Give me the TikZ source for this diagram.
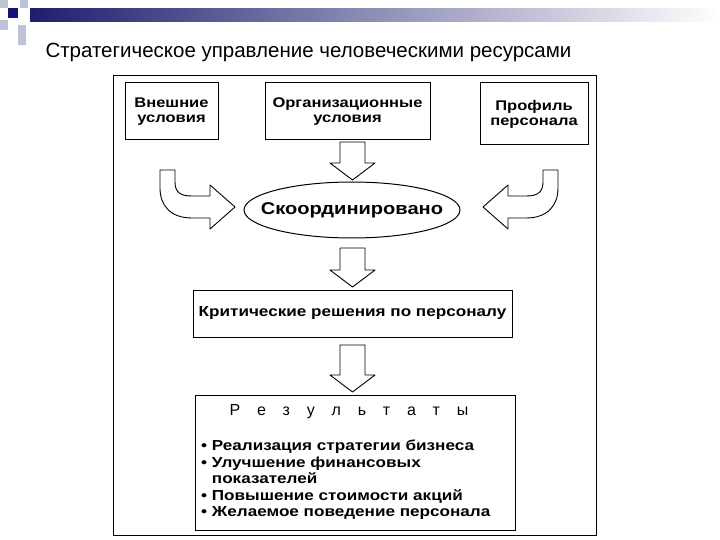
\documentclass[tikz,border=0pt]{standalone}
\usepackage{fontspec}
\setmainfont{Liberation Sans}
\newfontfamily\widebf{Liberation Sans}[FakeStretch=1.18,BoldFont={* Bold}]
\usetikzlibrary{shapes.geometric}
\definecolor{navy}{RGB}{30,30,110}
\definecolor{deepblue}{RGB}{20,20,120}
\definecolor{pale}{RGB}{190,195,215}
\begin{document}
\begin{tikzpicture}[x=1pt,y=-1pt,
  box/.style={draw,line width=1pt,font=\widebf\bfseries\fontsize{14}{15}\selectfont,align=center,inner sep=0pt},
  harrow/.style={draw,line width=0.9pt,fill=white,line join=round}]
\useasboundingbox (0,0) rectangle (720,540);
% decoration
\shade[left color=navy,right color=white] (30,9) rectangle (720,22);
\fill[pale] (0,0) rectangle (8,8);
\fill[pale] (20,0) rectangle (28,8);
\fill[pale] (0,20) rectangle (8,30);
\fill[pale] (18,25) rectangle (26,45);
\fill[deepblue] (8,8) rectangle (18,18);
\node[anchor=west,font=\fontsize{20.5}{22}\selectfont] (title) at (42,52) {Стратегическое управление человеческими ресурсами};
% frame
\node[draw,line width=1.3pt,minimum width=483,minimum height=460,anchor=north west] (frame) at (113,75) {};
\node[box,minimum width=93,minimum height=57] (ext) at (171.5,111.5) {Внешние\\условия};
\node[box,minimum width=165,minimum height=57] (org) at (347.5,111.5) {Организационные\\условия};
\node[box,minimum width=108,minimum height=62] (prof) at (534,114) {Профиль\\персонала};
\node[inner sep=0pt,font=\widebf\bfseries\fontsize{17}{18}\selectfont] (coord) at (352,210) {Скоординировано};
\draw[line width=1pt] (coord.center) ellipse [x radius=108,y radius=28];
\node[box,minimum width=319,minimum height=47,font=\widebf\bfseries\fontsize{14.5}{16}\selectfont] (crit) at (352.5,313.5) {Критические решения по персоналу};
\node[draw,line width=1pt,minimum width=320,minimum height=135,anchor=north west] (res) at (195,395) {};
\node[font=\fontsize{16}{18}\selectfont,anchor=west] (rt) at (226,412) {Р\hspace{1.05em}е\hspace{1.05em}з\hspace{1.05em}у\hspace{1.05em}л\hspace{1.05em}ь\hspace{1.05em}т\hspace{1.05em}а\hspace{1.05em}т\hspace{1.05em}ы};
\node[anchor=north west,align=left,font=\widebf\bfseries\fontsize{14.5}{16.5}\selectfont,inner sep=0pt] (list) at (201,440) {%
\textbullet\ Реализация стратегии бизнеса\\
\textbullet\ Улучшение финансовых\\
\phantom{\textbullet\ }показателей\\
\textbullet\ Повышение стоимости акций\\
\textbullet\ Желаемое поведение персонала};
% block arrows down
\foreach \t/\b in {142/180, 248/287, 345/392}{
  \pgfmathsetmacro{\m}{\b-17}
  \draw[harrow] (340,\t) -- (365,\t) -- (365,\m) -- (375,\m) -- (352.5,\b) -- (330,\m) -- (340,\m) -- cycle;
}
% curved arrows
\def\curvarrow{(160,170) -- (175,170) -- (175,182) .. controls (175,192) and (180,196) .. (192,196) -- (210,196) -- (210,185) -- (235,207) -- (210,229) -- (210,218) -- (192,218) .. controls (170,218) and (160,205) .. (160,188) -- cycle}
\draw[harrow] \curvarrow;
\begin{scope}[shift={(718,0)},xscale=-1]
\draw[harrow] \curvarrow;
\end{scope}
\end{tikzpicture}
\end{document}
